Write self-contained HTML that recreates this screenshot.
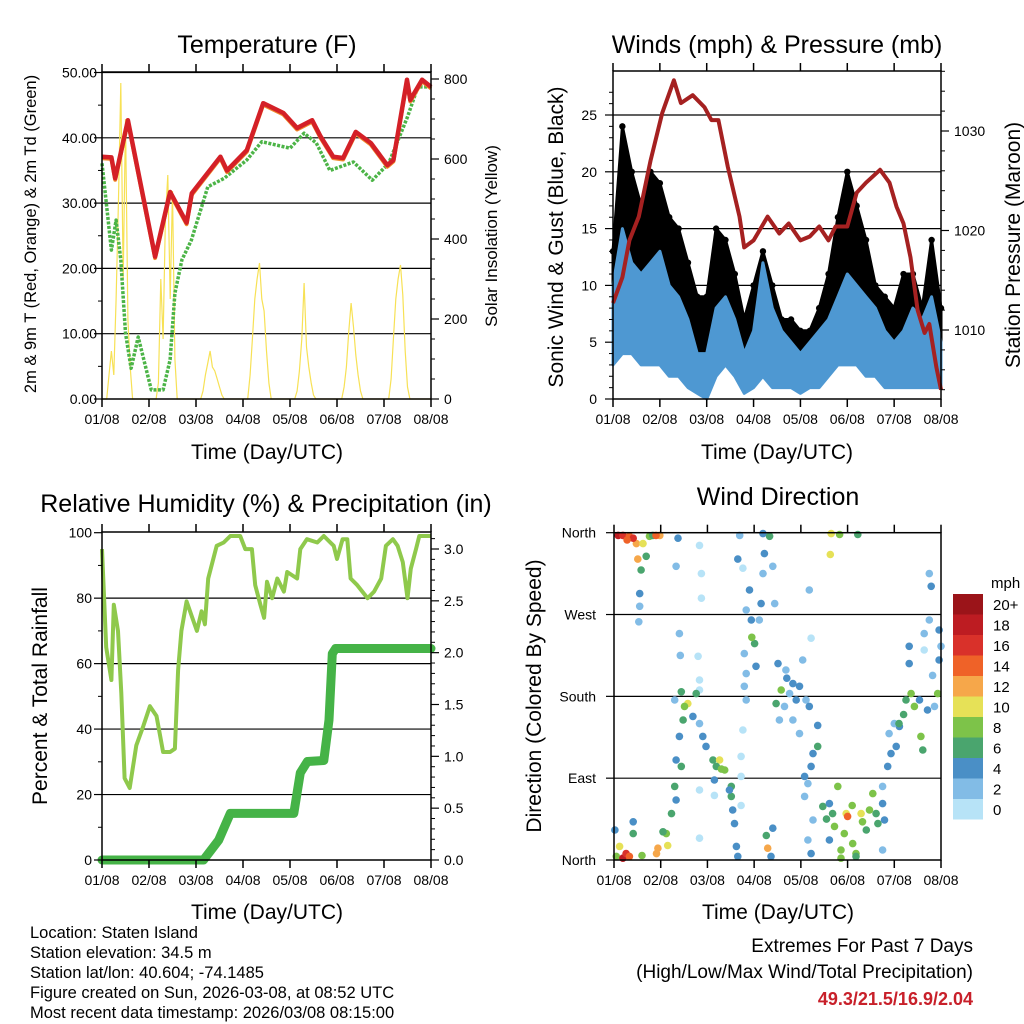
<!DOCTYPE html>
<html><head><meta charset="utf-8"><style>
body{margin:0;background:#fff;}
svg{display:block;font-family:"Liberation Sans",sans-serif;}
</style></head><body>
<svg id="root" width="1024" height="1024" viewBox="0 0 1024 1024"></svg>
<script>
// ---------- DATA ----------
const dayTickLabels = ["01/08","02/08","03/08","04/08","05/08","06/08","07/08","08/08"];
// Temperature (F)
const tempDays = [0,0.2,0.28,0.55,1.13,1.45,1.8,1.91,2.52,2.66,3.08,3.43,3.86,4.15,4.47,4.65,4.92,5.13,5.4,5.72,6.07,6.2,6.49,6.56,6.81,7];
const tempVals = [37.1,37,33.8,42.7,21.8,31.7,27,31.5,37.1,35,38.1,45.3,43.8,41.5,42.7,40.2,37.1,36.9,40.9,39.2,35.8,36.6,48.9,45.8,48.9,47.8];
const dewDays = [0,0.2,0.3,0.4,0.5,0.62,0.77,1.05,1.3,1.45,1.55,1.7,1.9,2.25,2.6,3.08,3.4,4.0,4.3,4.56,4.85,5.35,5.75,6.1,6.5,6.72,7];
const dewVals = [36.1,22.8,27.4,21.3,10.1,4.7,9.5,1.4,1.4,6,16.2,21.3,24.3,32.5,33.8,36.6,39.4,38.4,40.7,39.2,35,36.3,33.5,36.1,43.2,47.8,47.8];
// Solar insolation, every 0.05 day
const solarVals = [0,0,0,60,120,60,250,500,790,300,700,200,80,0,0,0,0,0,0,0,
 0,0,0,0,40,300,150,450,560,250,520,100,0,0,0,0,0,0,0,0,
 0,0,0,20,60,90,120,80,70,50,30,10,0,0,0,0,0,0,0,0,
 0,0,0,60,150,250,300,340,250,220,120,40,0,0,0,0,0,0,0,0,
 0,0,0,20,70,150,290,130,80,40,10,0,0,0,0,0,0,0,0,0,
 0,0,0,30,80,170,240,180,110,60,20,0,0,0,0,0,0,0,0,0,
 0,0,0,50,150,250,300,335,260,120,30,0,0,0,0,0,0,0,0,0,0];
// Winds (every 0.2 day)
const windDays = [0,0.2,0.4,0.6,0.8,1.0,1.2,1.4,1.6,1.8,2.0,2.2,2.4,2.6,2.8,3.0,3.2,3.4,3.6,3.8,4.0,4.2,4.4,4.6,4.8,5.0,5.2,5.4,5.6,5.8,6.0,6.2,6.4,6.6,6.8,7.0];
const windHi = [10,15,12,11,12,13,10,9,7,4,4,8,9,7,4,6,12,8,6,5,4,5,6,7,9,11,10,9,8,6,5,6,8,7,9,5];
const windLo = [3,4,4,3,3,3,2,2,1,0.5,0,2,3,2,0.5,1,2,1,1,1,0.5,1,1,2,3,3,3,2,2,1,1,1,1,1,1,1];
const gustHi = [13,24,20,17,20,19,16,15,12,9,9,15,14,11,7,10,13,10,7,7,6,6,8,11,16,20,17,14,10,9,8,11,11,8,14,8];
const gustLo = [5,10,9,8,8,8,7,6,4,1,1,5,7,5,2,3,7,4,3,3,2,3,3,5,7,8,8,7,5,4,3,4,5,4,6,3];
// Pressure (mb)
const presDays = [0,0.2,0.35,0.55,0.8,1.05,1.3,1.45,1.7,1.95,2.1,2.25,2.45,2.7,2.8,3.0,3.3,3.55,3.75,4.0,4.2,4.4,4.6,4.75,5.0,5.2,5.4,5.7,5.9,6.05,6.2,6.35,6.5,6.65,6.75,6.9,7.0];
const presVals = [1012.7,1015.3,1019,1021.4,1027,1031.8,1035.1,1032.8,1033.6,1032.4,1031.1,1031.1,1026.4,1021.4,1018.3,1019,1021.4,1019.7,1020.7,1019,1019.4,1020.4,1019,1020.4,1020.4,1023.8,1024.8,1026.1,1024.8,1022.4,1020.7,1017.3,1012,1009.7,1010.6,1006.3,1004];
// RH (%)
const rhDays = [0,0.09,0.2,0.25,0.34,0.41,0.48,0.59,0.73,0.88,1.02,1.16,1.3,1.45,1.55,1.62,1.69,1.8,2.02,2.12,2.19,2.26,2.44,2.59,2.73,2.94,3.05,3.19,3.26,3.37,3.45,3.51,3.62,3.73,3.87,3.94,4.15,4.22,4.36,4.58,4.72,4.93,5.0,5.12,5.22,5.29,5.43,5.65,5.79,5.94,6.04,6.19,6.29,6.4,6.5,6.57,6.68,6.75,7];
const rhVals = [95,65,55,78,70,51,25,22,35,41,47,44,33,33,34,58,70,79,70,76,72,86,96,97,99,99,95,95,84,78,74,85,80,86,82,88,86,95,98,97,99,96,92,98,98,86,84,80,82,86,96,98,96,91,80,89,95,99,99];
// Rainfall (in)
const rainDays = [0,2.16,2.48,2.73,4.08,4.22,4.37,4.72,4.83,4.9,4.97,7];
const rainVals = [0,0,0.19,0.45,0.45,0.84,0.95,0.96,1.35,1.99,2.04,2.04];
// Wind direction observations [day, direction(deg), speed(mph)]
const windDirObs = [
[0.09,357,18],[0.19,357,17],[0.33,356,14],[0.48,348,12],[0.62,348,10],[0.76,356,8],[0.98,357,12],[0.51,331,12],[0.58,319,6],[0.55,293,4],[0.55,279,2],[0.53,262,2],[0.69,334,6],[0.83,357,6],[0.41,354,16],[0.28,352,14],[0.9,357,14],
[0.05,4,8],[0.19,2,18],[0.26,7,16],[0.33,4,14],[0.02,33,4],[0.41,29,6],[0.41,42,4],[0.91,7,12],[0.94,13,12],[1.15,16,10],[1.12,29,8],[1.23,51,6],[1.30,81,6],[1.33,66,4],[1.05,31,6],[0.12,15,10],[0.6,5,8],
[1.37,354,4],[1.33,323,2],[1.83,346,0],[1.87,315,0],[1.87,288,0],[1.40,249,2],[1.42,225,2],[1.80,224,0],[1.83,198,0],[1.83,187,0],[1.83,77,0],[1.83,24,0],[2.15,71,0],[2.72,60,0],[2.76,321,0],[2.76,143,0],[2.72,114,0],[2.72,92,0],[2.65,331,4],[2.69,357,2],
[1.44,185,6],[1.58,172,10],[1.51,169,8],[1.69,158,4],[1.48,154,6],[1.40,136,4],[1.83,150,2],[1.90,136,4],[1.76,183,6],[1.30,176,2],[1.33,110,4],[1.44,103,6],
[1.97,125,4],[2.12,110,6],[2.26,110,10],[2.19,103,6],[2.37,99,8],[2.15,88,4],[2.51,81,6],[2.51,70,6],[2.54,55,4],[2.58,40,4],[2.62,15,4],[2.65,4,4],[2.47,77,4],[2.3,100,8],
[2.90,297,4],[2.83,275,2],[2.94,264,4],[3.01,238,6],[3.04,213,4],[2.79,227,2],[2.83,205,2],[2.79,191,2],[2.83,176,2],[3.15,282,4],[3.11,264,2],[3.19,359,4],[3.22,337,4],[3.19,315,2],[3.33,356,6],[3.40,323,2],[3.44,282,2],[2.95,245,8],
[3.26,27,6],[3.29,13,12],[3.36,4,4],[3.40,35,4],
[3.51,216,4],[3.68,209,2],[3.58,187,8],[3.83,194,4],[4.04,220,2],[3.97,191,4],[3.65,169,2],[3.83,154,2],[3.54,154,2],[3.47,172,6],[4.11,176,2],[3.97,139,2],[4.18,169,4],[3.76,183,2],[3.90,176,4],[3.70,200,4],
[4.36,148,4],[4.36,125,6],[4.26,117,4],[4.22,103,4],[4.15,84,2],[4.08,92,4],[4.08,70,2],[4.26,44,2],[4.15,22,2],[4.22,7,4],
[4.65,359,10],[4.83,358,8],[5.22,358,6],[4.63,336,10],[4.18,297,2],[4.22,244,1],
[4.47,59,6],[4.68,51,6],[4.79,81,8],[4.72,37,8],[4.97,51,10],[5.00,48,14],[4.93,29,8],[5.11,18,8],[5.18,7,8],[4.61,22,4],[4.86,11,8],[4.61,62,4],[5.29,51,10],[5.32,42,8],[5.47,55,8],[5.61,51,6],[5.75,62,4],[5.54,73,8],[5.40,33,6],[5.75,81,2],[5.79,44,4],[5.75,11,2],[4.86,2,8],[5.18,4,6],[4.55,45,6],[5.1,60,8],[5.65,40,6],
[5.89,139,2],[5.93,117,4],[5.86,103,4],[6.04,125,4],[6.11,147,4],[6.00,150,2],[6.25,176,6],[6.36,183,8],[6.43,169,8],[6.54,176,4],[6.57,136,8],[6.61,121,6],[6.71,165,4],[6.86,169,2],[6.93,183,8],[6.32,216,4],[6.32,235,4],[6.75,264,2],[6.79,301,4],[6.75,315,2],[6.64,231,0],[6.96,253,4],[7.0,235,2],[6.96,220,4],[6.82,203,2],[6.64,249,2],[6.2,160,6],[6.1,150,6]
];
const speedLabels = ["20+","18","16","14","12","10","8","6","4","2","0"];
const speedColors = ["#9b1419","#bd1c22","#d9312a","#ef6228","#f6a74a","#e6e157","#7dc349","#4aa56e","#4a8fc6","#82bce6","#b7e3f7"];

// ---------- HELPERS ----------
const NS="http://www.w3.org/2000/svg";
const root=document.getElementById('root');
function mk(tag,attrs,parent,text){const e=document.createElementNS(NS,tag);for(const k in attrs)e.setAttribute(k,attrs[k]);if(text!==undefined)e.textContent=text;(parent||root).appendChild(e);return e;}
function lin(d0,d1,r0,r1){return v=>r0+(v-d0)/(d1-d0)*(r1-r0);}
function pts(xs,ys,fx,fy){return xs.map((d,i)=>fx(d).toFixed(1)+','+fy(ys[i]).toFixed(1)).join(' ');}

function frame(g,L,T,R,B,fx,fy,yTicks,yMinor,rightTicks,rightMinor){
  for(let d=0;d<=7;d++){const x=fx(d);
    mk('line',{x1:x,y1:B,x2:x,y2:B+8,stroke:'#000','stroke-width':1.5},g);
    mk('line',{x1:x,y1:T,x2:x,y2:T-8,stroke:'#000','stroke-width':1.5},g);
    const t=mk('text',{x:x,y:B+25,'font-size':14,'text-anchor':'middle'},g,dayTickLabels[d]);
    
    
  }
  (yTicks||[]).forEach(y=>mk('line',{x1:L,y1:y,x2:L-8,y2:y,stroke:'#000','stroke-width':1.2},g));
  (yMinor||[]).forEach(y=>mk('line',{x1:L,y1:y,x2:L-4,y2:y,stroke:'#000','stroke-width':1},g));
  (rightTicks||[]).forEach(y=>mk('line',{x1:R,y1:y,x2:R+8,y2:y,stroke:'#000','stroke-width':1.2},g));
  (rightMinor||[]).forEach(y=>mk('line',{x1:R,y1:y,x2:R+4,y2:y,stroke:'#000','stroke-width':1},g));
  const b=mk('rect',{x:L,y:T,width:R-L,height:B-T,fill:'none',stroke:'#000','stroke-width':1.5},g);
  
  
}
function title(x,y,s,txt,name,rot){
  const t=mk('text',{x:x,y:y,'font-size':s,'text-anchor':'middle'},root,txt);
  if(rot)t.setAttribute('transform','rotate(-90 '+x+' '+y+')');
  
  
}

// ---------- PANEL 1: TEMPERATURE ----------
{
const L=102,R=431,T=72,B=399;
const g=mk('g',{});


const fx=lin(0,7,L,R), fy=lin(0,50,B,72.5), fs=lin(0,800,B,79);
[10,20,30,40,50].forEach(v=>mk('line',{x1:L,x2:R,y1:fy(v),y2:fy(v),stroke:'#000','stroke-width':1.2},g));
const sol=mk('polyline',{points:solarVals.map((v,i)=>fx(i*0.05).toFixed(1)+','+fs(v).toFixed(1)).join(' '),fill:'none',stroke:'#f7e155','stroke-width':1.2},g);


const dw=mk('polyline',{points:pts(dewDays,dewVals,fx,fy),fill:'none',stroke:'#4cb447','stroke-width':3.5,'stroke-dasharray':'3 1.5','stroke-linejoin':'round'},g);


const or=mk('polyline',{points:pts(tempDays,tempVals,fx,v=>fy(v)+1.5),fill:'none',stroke:'#f08a2c','stroke-width':4,'stroke-linejoin':'round'},g);


const rd=mk('polyline',{points:pts(tempDays,tempVals,fx,fy),fill:'none',stroke:'#d42027','stroke-width':4.5,'stroke-linejoin':'round'},g);


const yt=[0,10,20,30,40,50].map(fy), ym=[5,15,25,35,45].map(fy);
const rt=[0,200,400,600,800].map(fs), rm=[50,100,150,250,300,350,450,500,550,650,700,750].map(fs);
frame(g,L,T,R,B,fx,fy,yt,ym,rt,rm);
[0,10,20,30,40,50].forEach(v=>{const t=mk('text',{x:97,y:fy(v)+5,'font-size':14,'text-anchor':'end'},g,v.toFixed(2));});
[0,200,400,600,800].forEach(v=>{const t=mk('text',{x:444,y:fs(v)+5,'font-size':14},g,String(v));});
title(267,53,25,'Temperature (F)','temperature-title');
title(267,459,21,'Time (Day/UTC)','temperature-x-axis-title');
title(36,234,16.5,'2m & 9m T (Red, Orange) & 2m Td (Green)','temperature-y-axis-title',true);
title(497,236,17,'Solar Insolation (Yellow)','solar-y-axis-title',true);
}

// ---------- PANEL 2: WINDS ----------
{
const L=613,R=941,T=71,B=399;
const g=mk('g',{});


const fx=lin(0,7,L,R), fy=lin(0,25,B,115), fp=lin(1010,1030,330,131);
[5,10,15,20,25].forEach(v=>mk('line',{x1:L,x2:R,y1:fy(v),y2:fy(v),stroke:'#000','stroke-width':1.2},g));
const gp=pts(windDays,gustHi,fx,fy)+' '+pts(windDays.slice().reverse(),gustLo.slice().reverse(),fx,fy);
const ga=mk('polygon',{points:gp,fill:'#000',stroke:'#000','stroke-width':3,'stroke-linejoin':'round'},g);


windDays.forEach((d,i)=>{
  const c=mk('circle',{cx:fx(d),cy:fy(gustHi[i]),r:3.2,fill:'#000'},g);
  
  
});
const wp=pts(windDays,windHi,fx,fy)+' '+pts(windDays.slice().reverse(),windLo.slice().reverse(),fx,fy);
const wa=mk('polygon',{points:wp,fill:'#4e98d2',stroke:'#4e98d2','stroke-width':3,'stroke-linejoin':'round'},g);


const pl=mk('polyline',{points:pts(presDays,presVals,fx,fp),fill:'none',stroke:'#a52121','stroke-width':4,'stroke-linejoin':'round'},g);


const yt=[0,5,10,15,20,25].map(fy), ym=[];
for(let v=1;v<28;v++){if(v%5)ym.push(fy(v));}
const rt=[1010,1020,1030].map(fp), rm=[];
for(let p=1004;p<=1036;p+=2){if(p%10)rm.push(fp(p));}
frame(g,L,T,R,B,fx,fy,yt,ym,rt,rm);
[0,5,10,15,20,25].forEach(v=>{const t=mk('text',{x:597,y:fy(v)+5,'font-size':14,'text-anchor':'end'},g,String(v));});
[1010,1020,1030].forEach(v=>{const t=mk('text',{x:954,y:fp(v)+5,'font-size':14},g,String(v));});
title(777,53,25,'Winds (mph) & Pressure (mb)','winds-title');
title(777,459,21,'Time (Day/UTC)','winds-x-axis-title');
title(563,237,21,'Sonic Wind & Gust (Blue, Black)','wind-y-axis-title',true);
title(1020,245,21,'Station Pressure (Maroon)','pressure-y-axis-title',true);
}

// ---------- PANEL 3: RH ----------
{
const L=102,R=431,T=532,B=860;
const g=mk('g',{});


const fx=lin(0,7,L,R), fy=lin(0,100,B,532.7), fr=lin(0,3,B,549);
[20,40,60,80].forEach(v=>mk('line',{x1:L,x2:R,y1:fy(v),y2:fy(v),stroke:'#000','stroke-width':1.2},g));
const rh=mk('polyline',{points:pts(rhDays,rhVals,fx,fy),fill:'none',stroke:'#8fc94c','stroke-width':4,'stroke-linejoin':'round'},g);


const rn=mk('polyline',{points:pts(rainDays,rainVals,fx,fr),fill:'none',stroke:'#45b347','stroke-width':9,'stroke-linejoin':'round','stroke-linecap':'round'},g);


const yt=[0,20,40,60,80,100].map(fy), ym=[10,30,50,70,90].map(fy);
const rt=[0,0.5,1,1.5,2,2.5,3].map(fr), rm=[];
for(let v=0.1;v<3.15;v+=0.1){const k=Math.round(v*10);if(k%5)rm.push(fr(k/10));}
frame(g,L,T,R,B,fx,fy,yt,ym,rt,rm);
[0,20,40,60,80,100].forEach(v=>{const t=mk('text',{x:92,y:fy(v)+5,'font-size':14,'text-anchor':'end'},g,String(v));});
[0,0.5,1,1.5,2,2.5,3].forEach(v=>{const t=mk('text',{x:444,y:fr(v)+5,'font-size':14},g,v.toFixed(1));});
title(266,512,25,'Relative Humidity (%) & Precipitation (in)','humidity-title');
title(267,919,21,'Time (Day/UTC)','humidity-x-axis-title');
title(47,696,21,'Percent & Total Rainfall','humidity-y-axis-title',true);
}

// ---------- PANEL 4: WIND DIRECTION ----------
{
const L=614,R=941,T=532.7,B=860;
const g=mk('g',{});


const fx=lin(0,7,L,R), fy=lin(0,360,B,T);
[90,180,270].forEach(v=>mk('line',{x1:L,x2:R,y1:fy(v),y2:fy(v),stroke:'#000','stroke-width':1.2},g));
windDirObs.forEach(o=>{
  const bin=Math.min(10,Math.floor(o[2]/2));
  const c=mk('circle',{cx:fx(o[0]).toFixed(1),cy:fy(o[1]).toFixed(1),r:3.8,fill:speedColors[10-bin]},g);
  
  
});
const yt=[0,90,180,270,360].map(fy);
frame(g,L,T,R,B,fx,fy,yt,[],[],[]);
['North','East','South','West','North'].forEach((s,i)=>{const t=mk('text',{x:596,y:fy(i*90)+5,'font-size':14,'text-anchor':'end'},g,s);});
title(778,505,25,'Wind Direction','wind-direction-title');
title(778,919,21,'Time (Day/UTC)','wind-direction-x-axis-title');
title(541,696,21,'Direction (Colored By Speed)','wind-direction-y-axis-title',true);
const cb=mk('g',{});


const t0=mk('text',{x:991,y:588,'font-size':15},cb,'mph');


speedColors.forEach((c,i)=>{
  const y=594+i*20.5;
  const r=mk('rect',{x:953,y:y,width:30,height:20.5,fill:c},cb);
  
  
  const t=mk('text',{x:993,y:y+16,'font-size':15},cb,speedLabels[i]);
  
  
});
}

// ---------- FOOTER ----------
{
const lines=["Location: Staten Island","Station elevation: 34.5 m","Station lat/lon: 40.604; -74.1485","Figure created on Sun, 2026-03-08, at 08:52 UTC","Most recent data timestamp: 2026/03/08 08:15:00"];
lines.forEach((s,i)=>{const t=mk('text',{x:30,y:938+i*20,'font-size':16.5},root,s);});
const a=mk('text',{x:973,y:952,'font-size':19,'text-anchor':'end'},root,'Extremes For Past 7 Days');


const b=mk('text',{x:973,y:978,'font-size':19,'text-anchor':'end'},root,'(High/Low/Max Wind/Total Precipitation)');


const c=mk('text',{x:973,y:1005,'font-size':18,'font-weight':'bold','text-anchor':'end',fill:'#c8202a'},root,'49.3/21.5/16.9/2.04');


}
</script>
</body></html>
